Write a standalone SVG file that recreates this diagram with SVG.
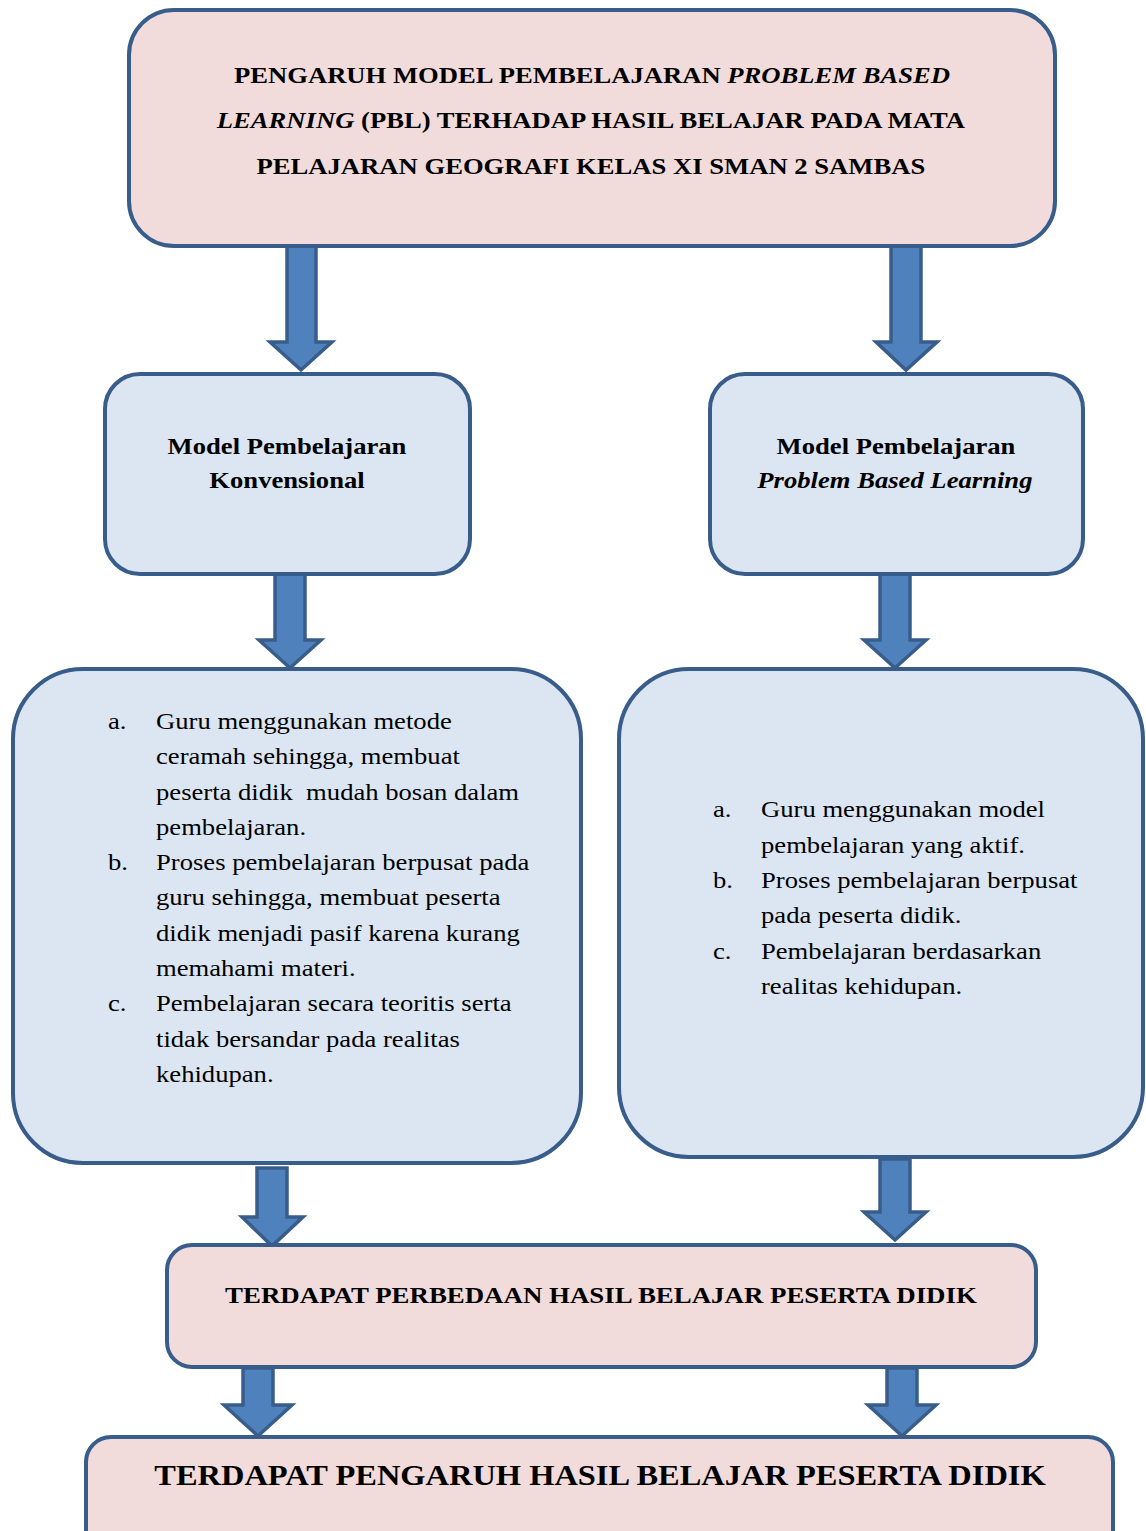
<svg xmlns="http://www.w3.org/2000/svg" width="1146" height="1531" viewBox="0 0 1146 1531">
<style>
.pink{fill:#F2DCDB;stroke:#385D8A;stroke-width:4}
.blue{fill:#DCE6F2;stroke:#385D8A;stroke-width:4}
.arr{fill:#4F81BD;stroke:#385D8A;stroke-width:3.5;stroke-linejoin:miter}
text{font-family:"Liberation Serif","Times New Roman",serif;fill:#000}
.t{font-size:24px;font-weight:bold;text-anchor:middle}
.h{font-size:24px;font-weight:bold;text-anchor:middle}
.b{font-size:24px}
.f{font-size:29.5px;font-weight:bold;text-anchor:middle}
</style>
<rect width="1146" height="1531" fill="#fff"/>
<g id="connectors">
<path class="arr" d="M287,246 H316 V342 H332 L301,370 L270,342 H287 Z"/>
<path class="arr" d="M891,246 H921 V342 H937 L906,370 L876,342 H891 Z"/>
<path class="arr" d="M275,574 H305 V640 H321 L290,668 L259,640 H275 Z"/>
<path class="arr" d="M880,574 H910 V640 H926 L895,668 L864,640 H880 Z"/>
<path class="arr" d="M257,1168 H287 V1217 H303 L272,1246 L242,1217 H257 Z"/>
<path class="arr" d="M880,1159 H910 V1212 H926 L895,1240 L864,1212 H880 Z"/>
<path class="arr" d="M243,1368 H273 V1405 H292 L258,1436 L224,1405 H243 Z"/>
<path class="arr" d="M887,1368 H917 V1405 H936 L902,1436 L868,1405 H887 Z"/>
</g>
<g id="title">
<rect class="pink" x="129" y="10" width="926" height="236" rx="45"/>
<g transform="translate(592 0) scale(1.11 1) translate(-592 0)">
<text class="t" x="592" y="83">PENGARUH MODEL PEMBELAJARAN <tspan font-style="italic">PROBLEM BASED</tspan></text>
<text class="t" x="591" y="128"><tspan font-style="italic">LEARNING</tspan> (PBL) TERHADAP HASIL BELAJAR PADA MATA</text>
<text class="t" x="591" y="174">PELAJARAN GEOGRAFI KELAS XI SMAN 2 SAMBAS</text>
</g>
</g>
<g id="konvensional">
<rect class="blue" x="105" y="374" width="365" height="200" rx="35"/>
<g transform="translate(287 0) scale(1.11 1) translate(-287 0)">
<text class="h" x="287" y="454">Model Pembelajaran</text>
<text class="h" x="287" y="488">Konvensional</text>
</g>
</g>
<g id="pbl">
<rect class="blue" x="710" y="374" width="373" height="200" rx="35"/>
<g transform="translate(896 0) scale(1.11 1) translate(-896 0)">
<text class="h" x="896" y="454">Model Pembelajaran</text>
<text class="h" x="895" y="488" font-style="italic">Problem Based Learning</text>
</g>
</g>
<g id="konvensional-list">
<rect class="blue" x="13" y="669" width="568" height="494" rx="70"/>
<g transform="translate(108 0) scale(1.11 1) translate(-108 0)">
<text class="b" x="108" y="729">a.</text>
<text class="b" x="108" y="870">b.</text>
<text class="b" x="108" y="1011">c.</text>
</g>
<g transform="translate(156 0) scale(1.11 1) translate(-156 0)">
<text class="b" x="156" y="729">Guru menggunakan metode</text>
<text class="b" x="156" y="764">ceramah sehingga, membuat</text>
<text class="b" x="156" y="800" xml:space="preserve">peserta didik  mudah bosan dalam</text>
<text class="b" x="156" y="835">pembelajaran.</text>
<text class="b" x="156" y="870">Proses pembelajaran berpusat pada</text>
<text class="b" x="156" y="905">guru sehingga, membuat peserta</text>
<text class="b" x="156" y="941">didik menjadi pasif karena kurang</text>
<text class="b" x="156" y="976">memahami materi.</text>
<text class="b" x="156" y="1011">Pembelajaran secara teoritis serta</text>
<text class="b" x="156" y="1047">tidak bersandar pada realitas</text>
<text class="b" x="156" y="1082">kehidupan.</text>
</g>
</g>
<g id="pbl-list">
<rect class="blue" x="619" y="669" width="524" height="488" rx="70"/>
<g transform="translate(713 0) scale(1.11 1) translate(-713 0)">
<text class="b" x="713" y="817">a.</text>
<text class="b" x="713" y="888">b.</text>
<text class="b" x="713" y="959">c.</text>
</g>
<g transform="translate(761 0) scale(1.11 1) translate(-761 0)">
<text class="b" x="761" y="817">Guru menggunakan model</text>
<text class="b" x="761" y="853">pembelajaran yang aktif.</text>
<text class="b" x="761" y="888">Proses pembelajaran berpusat</text>
<text class="b" x="761" y="923">pada peserta didik.</text>
<text class="b" x="761" y="959">Pembelajaran berdasarkan</text>
<text class="b" x="761" y="994">realitas kehidupan.</text>
</g>
</g>
<g id="perbedaan">
<rect class="pink" x="167" y="1245" width="869" height="122" rx="25"/>
<g transform="translate(601 0) scale(1.12 1) translate(-601 0)">
<text class="t" x="601" y="1303">TERDAPAT PERBEDAAN HASIL BELAJAR PESERTA DIDIK</text>
</g>
</g>
<g id="pengaruh">
<rect class="pink" x="86" y="1437" width="1027" height="120" rx="25"/>
<g transform="translate(600 0) scale(1.1 1) translate(-600 0)">
<text class="f" x="600" y="1485">TERDAPAT PENGARUH HASIL BELAJAR PESERTA DIDIK</text>
</g>
</g>
</svg>
